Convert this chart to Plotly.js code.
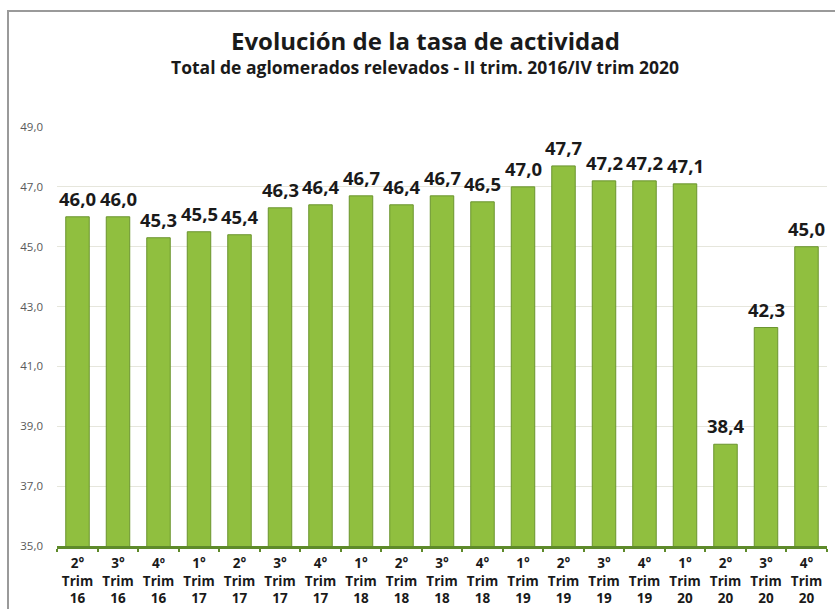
<!DOCTYPE html>
<html>
<head>
<meta charset="utf-8">
<script src="https://cdn.plot.ly/plotly-3.0.1.min.js"></script>
<style>
  html, body { margin: 0; padding: 0; background: #ffffff; }
  #chart { width: 835px; height: 609px; }
</style>
</head>
<body>
<div id="chart"></div>
<script>
// Data
const categories = [
  "2° Trim 16", "3° Trim 16", "4º Trim 16",
  "1° Trim 17", "2° Trim 17", "3° Trim 17", "4° Trim 17",
  "1° Trim 18", "2° Trim 18", "3° Trim 18", "4° Trim 18",
  "1° Trim 19", "2° Trim 19", "3° Trim 19", "4° Trim 19",
  "1° Trim 20", "2° Trim 20", "3° Trim 20", "4° Trim 20"
];
const tickLabels = [
  "2°<br>Trim<br>16", "3°<br>Trim<br>16", "4º<br>Trim<br>16",
  "1°<br>Trim<br>17", "2°<br>Trim<br>17", "3°<br>Trim<br>17", "4°<br>Trim<br>17",
  "1°<br>Trim<br>18", "2°<br>Trim<br>18", "3°<br>Trim<br>18", "4°<br>Trim<br>18",
  "1°<br>Trim<br>19", "2°<br>Trim<br>19", "3°<br>Trim<br>19", "4°<br>Trim<br>19",
  "1°<br>Trim<br>20", "2°<br>Trim<br>20", "3°<br>Trim<br>20", "4°<br>Trim<br>20"
];
const tasaActividad = [
  46.0, 46.0, 45.3,
  45.5, 45.4, 46.3, 46.4,
  46.7, 46.4, 46.7, 46.5,
  47.0, 47.7, 47.2, 47.2,
  47.1, 38.4, 42.3, 45.0
];
const yTickValues = [35, 37, 39, 41, 43, 45, 47, 49];

const titleText = "Evolución de la tasa de actividad";
const subtitleText = "Total de aglomerados relevados - II trim. 2016/IV trim 2020";

const FONT = "Open Sans, Lato, DejaVu Sans, sans-serif";

const trace = {
  type: "bar",
  x: categories,
  y: tasaActividad,
  marker: {
    color: "#90BF3F",
    line: { color: "#6A942E", width: 1 }
  },
  hoverinfo: "x+y",
  cliponaxis: false
};

const valueAnnotations = categories.map((c, i) => ({
  x: c,
  y: tasaActividad[i],
  xref: "x",
  yref: "y",
  text: tasaActividad[i].toFixed(1).replace(".", ","),
  showarrow: false,
  yanchor: "bottom",
  yshift: 4,
  font: { family: FONT, size: 18.5, color: "#1a1a1a", weight: "bold" }
}));

const M = { l: 57, r: 8, t: 127, b: 63 };
const plotW = 835 - M.l - M.r;
const plotH = 609 - M.t - M.b;

const layout = {
  width: 835,
  height: 609,
  margin: M,
  paper_bgcolor: "#ffffff",
  plot_bgcolor: "#ffffff",
  separators: ",.",
  showlegend: false,
  bargap: 0.42,
  font: { family: FONT, color: "#333333" },
  xaxis: {
    type: "category",
    tickvals: categories,
    ticktext: tickLabels,
    tickangle: 0,
    tickfont: { family: FONT, size: 13.5, color: "#1a1a1a", weight: "bold" },
    showgrid: false,
    showline: true,
    linecolor: "#5E8A2A",
    linewidth: 3,
    ticks: "outside",
    tickson: "boundaries",
    ticklen: 3,
    tickwidth: 2,
    tickcolor: "#5E8A2A",
    ticklabelstandoff: 3,
    fixedrange: true
  },
  yaxis: {
    range: [35, 49],
    tickvals: yTickValues,
    tickformat: ".1f",
    tickfont: { family: FONT, size: 11.5, color: "#595959" },
    showgrid: true,
    gridcolor: "#E6E6DC",
    gridwidth: 1,
    zeroline: false,
    showline: false,
    ticks: "",
    ticklabelstandoff: 13,
    fixedrange: true
  },
  annotations: [
    {
      xref: "paper", yref: "paper",
      x: (425 - M.l) / plotW, y: 1, yanchor: "middle",
      yshift: M.t - 40,
      text: "<b>" + titleText + "</b>",
      showarrow: false,
      font: { family: FONT, size: 24, color: "#1a1a1a" }
    },
    {
      xref: "paper", yref: "paper",
      x: (425 - M.l) / plotW, y: 1, yanchor: "middle",
      yshift: M.t - 67,
      text: "<b>" + subtitleText + "</b>",
      showarrow: false,
      font: { family: FONT, size: 17.5, color: "#1a1a1a" }
    }
  ].concat(valueAnnotations),
  shapes: [
    {
      type: "rect",
      xref: "paper", yref: "paper",
      x0: (8 - M.l) / plotW, x1: 1.5,
      y0: -1, y1: (609 - M.b - 11) / plotH,
      layer: "below",
      line: { color: "#9A9A9A", width: 2 },
      fillcolor: "rgba(0,0,0,0)"
    }
  ]
};

Plotly.newPlot("chart", [trace], layout, { displayModeBar: false, staticPlot: true });
</script>
</body>
</html>
